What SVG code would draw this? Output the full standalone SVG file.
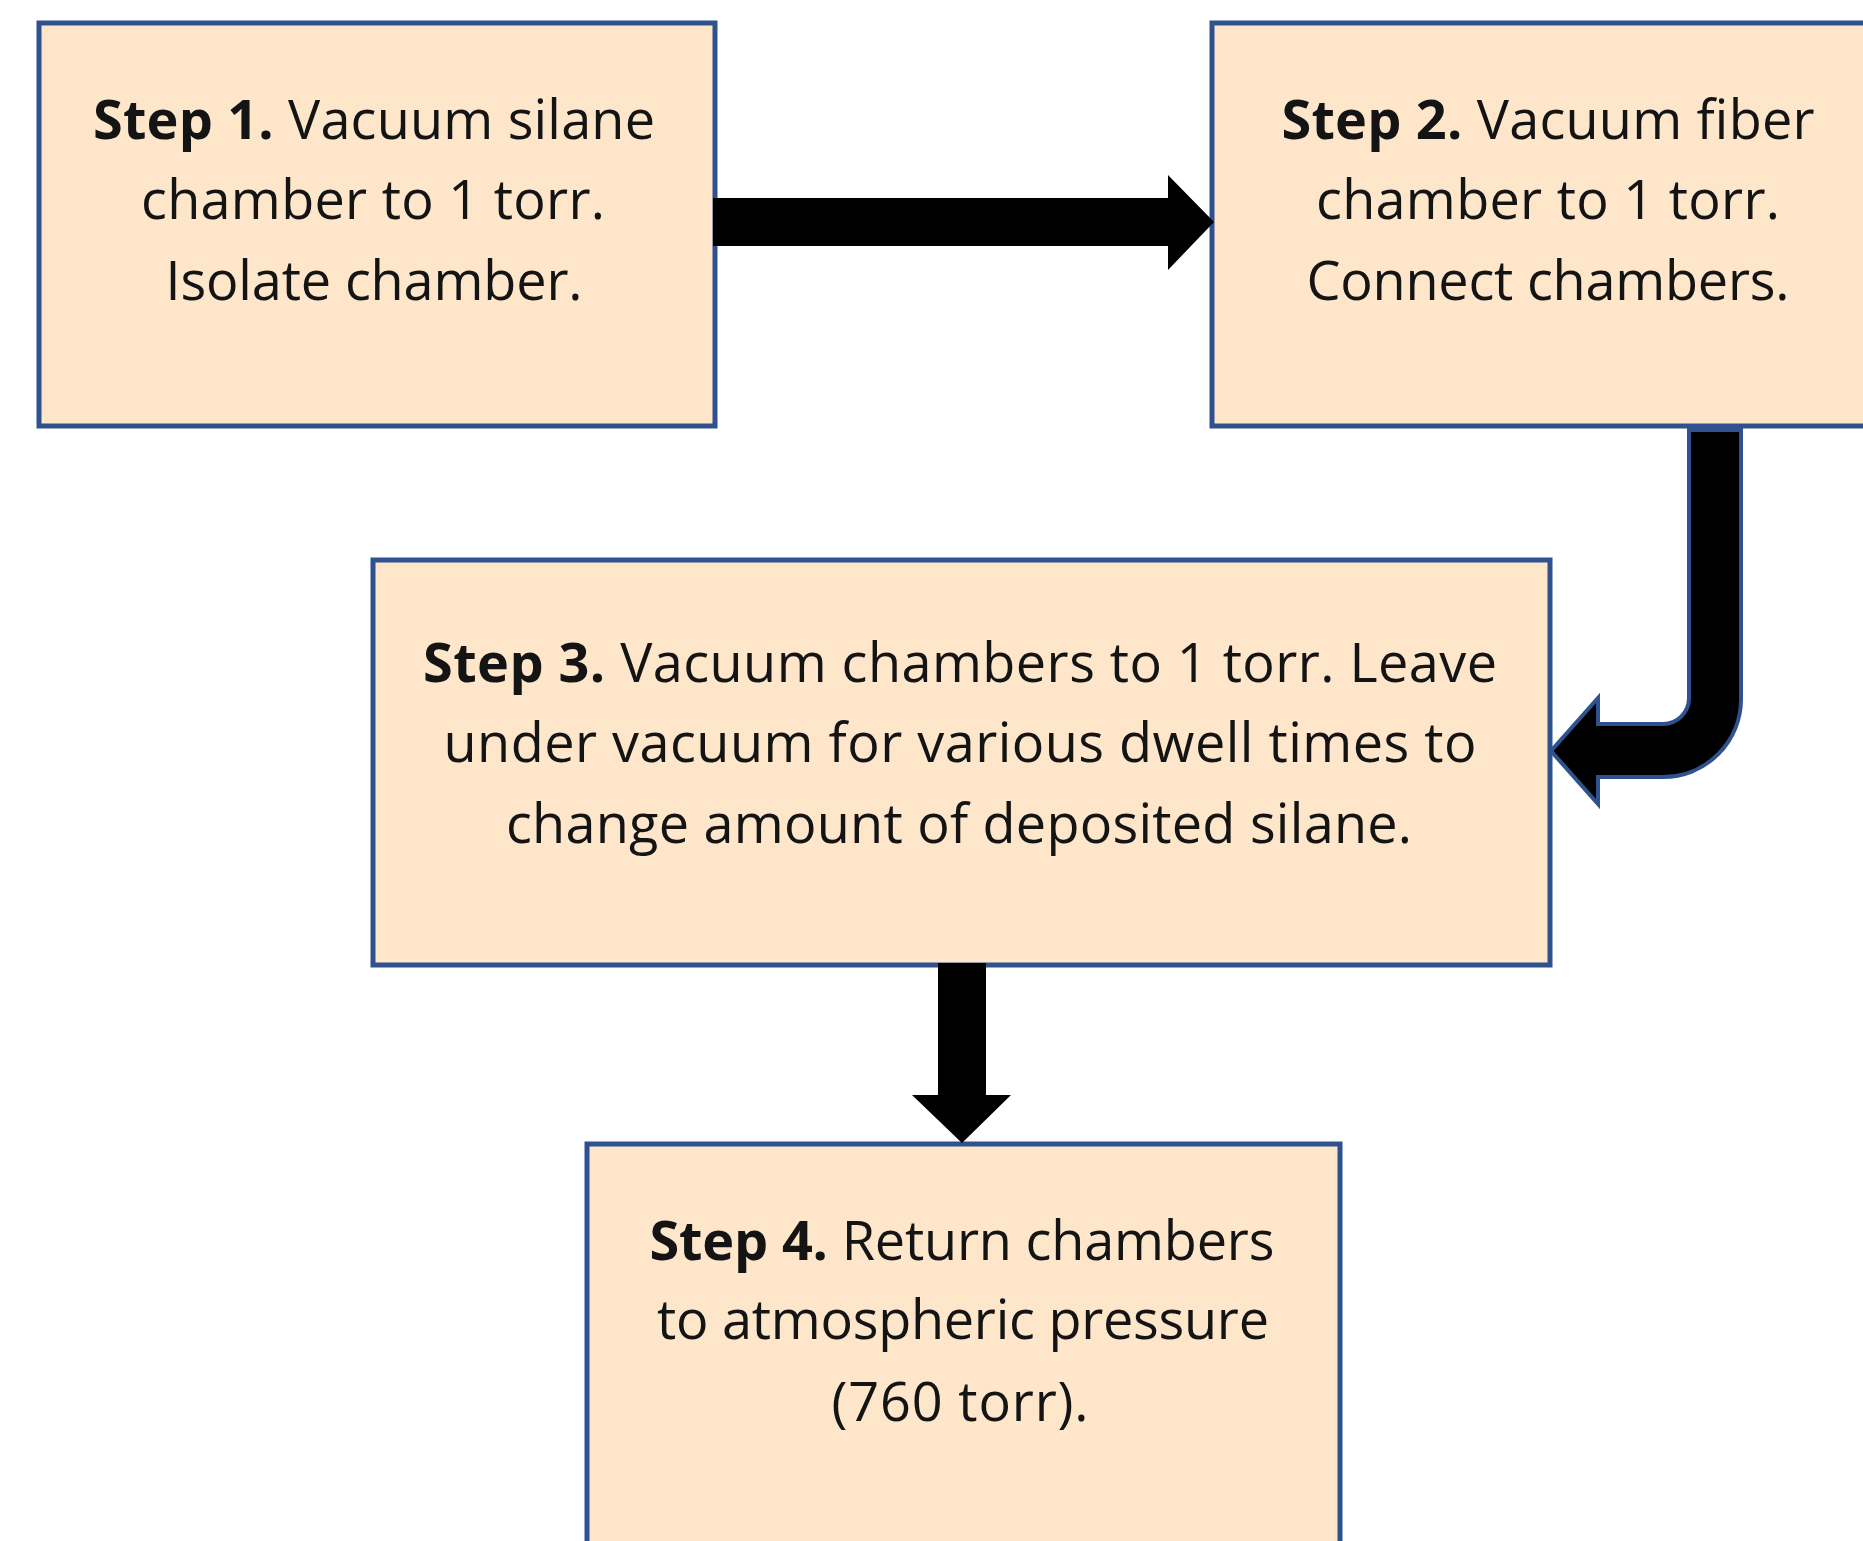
<svg xmlns="http://www.w3.org/2000/svg" width="1863" height="1541" viewBox="0 0 1863 1541">
<style>
.box{fill:#FEE6CB;stroke:#2F528F;stroke-width:5}
.t{font-family:"Open Sans","Noto Sans",sans-serif;font-size:54px;fill:#141414;text-anchor:middle}
.b{font-weight:bold}
.arr{fill:#000}
.arr2{fill:#000;stroke:#2F528F;stroke-width:4;stroke-linejoin:miter}
</style>
<rect width="1863" height="1541" fill="#fff"/>
<g id="step1">
<rect class="box" x="39" y="23" width="676" height="403"/>
<text class="t" x="374" y="139" textLength="562" lengthAdjust="spacing"><tspan class="b">Step 1.</tspan> Vacuum silane</text>
<text class="t" x="373" y="219" textLength="464" lengthAdjust="spacing">chamber to 1 torr.</text>
<text class="t" x="374" y="300" textLength="417" lengthAdjust="spacing">Isolate chamber.</text>
</g>
<g id="step2">
<rect class="box" x="1212" y="23" width="676" height="403"/>
<text class="t" x="1548" y="139" textLength="533" lengthAdjust="spacing"><tspan class="b">Step 2.</tspan> Vacuum fiber</text>
<text class="t" x="1548" y="219" textLength="464" lengthAdjust="spacing">chamber to 1 torr.</text>
<text class="t" x="1548" y="300" textLength="483" lengthAdjust="spacing">Connect chambers.</text>
</g>
<g id="step3">
<rect class="box" x="373" y="560" width="1177" height="405"/>
<text class="t" x="960" y="682" textLength="1074" lengthAdjust="spacing"><tspan class="b">Step 3.</tspan> Vacuum chambers to 1 torr. Leave</text>
<text class="t" x="960" y="762" textLength="1033" lengthAdjust="spacing">under vacuum for various dwell times to</text>
<text class="t" x="959" y="843" textLength="906" lengthAdjust="spacing">change amount of deposited silane.</text>
</g>
<g id="step4">
<rect class="box" x="587" y="1144" width="753" height="410"/>
<text class="t" x="962" y="1260" textLength="625" lengthAdjust="spacing"><tspan class="b">Step 4.</tspan> Return chambers</text>
<text class="t" x="963" y="1339" textLength="612" lengthAdjust="spacing">to atmospheric pressure</text>
<text class="t" x="960" y="1421" textLength="257" lengthAdjust="spacing">(760 torr).</text>
</g>
<g id="connectors">
<polygon class="arr" points="713,198 1168,198 1168,175 1214,222 1168,270 1168,246 713,246"/>
<path class="arr2" d="M 1689 430 L 1689 698 A 26 26 0 0 1 1663 724 L 1598 724 L 1598 698 L 1551 751 L 1598 804 L 1598 777 L 1663 777 A 78 78 0 0 0 1741 699 L 1741 430 Z"/>
<polygon class="arr" points="938,963 986,963 986,1095 1011,1095 962,1143 912,1095 938,1095"/>
</g>
</svg>
